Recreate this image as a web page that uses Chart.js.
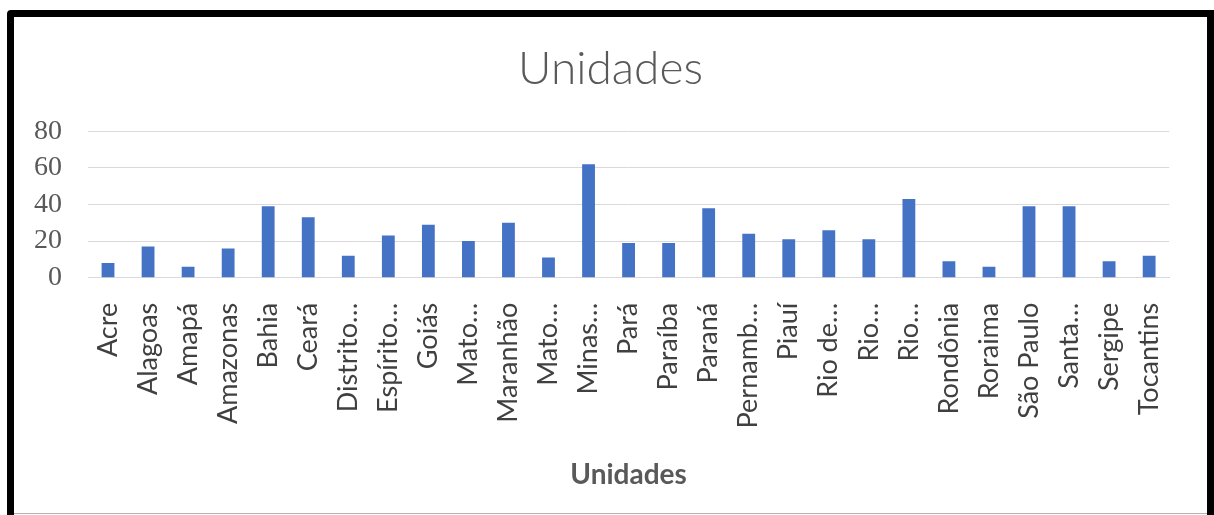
<!DOCTYPE html>
<html>
<head>
<meta charset="utf-8">
<script src="https://cdn.jsdelivr.net/npm/chart.js@4"></script>
<style>
  html, body { margin: 0; padding: 0; background: #fff; overflow: hidden; }
  #frame {
    position: absolute; left: 7px; top: 10px;
    width: 1193px; height: 600px;
    border: 7px solid #000;
    border-top-left-radius: 4px;
    background: #fff;
  }
  #box { position: absolute; left: 0; top: 0; width: 1193px; height: 498px; }
  #lineBottom { position: absolute; left: 0; top: 496px; width: 1193px; height: 1px; background: #b4b4b4; }
</style>
</head>
<body>
<div id="frame">
  <div id="box"><canvas id="grafico"></canvas></div>
  <div id="lineBottom"></div>
</div>
<script>
// categorias (como aparecem no gráfico, já truncadas)
const estados = ['Acre', 'Alagoas', 'Amapá', 'Amazonas', 'Bahia', 'Ceará', 'Distrito…', 'Espírito…',
  'Goiás', 'Mato…', 'Maranhão', 'Mato…', 'Minas…', 'Pará', 'Paraíba', 'Paraná', 'Pernamb…',
  'Piauí', 'Rio de…', 'Rio…', 'Rio…', 'Rondônia', 'Roraima', 'São Paulo', 'Santa…', 'Sergipe', 'Tocantins'];
const unidades = [8, 17, 6, 16, 39, 33, 12, 23, 29, 20, 30, 11, 62, 19, 19, 38, 24, 21, 26, 21, 43, 9, 6, 39, 39, 9, 12];
const ticksY = [0, 20, 40, 60, 80];

const cinza = '#595959';

new Chart(document.getElementById('grafico').getContext('2d'), {
  type: 'bar',
  data: {
    labels: estados,
    datasets: [{
      label: 'Unidades',
      data: unidades,
      backgroundColor: '#4472C4',
      barPercentage: 0.4,
      categoryPercentage: 0.8
    }]
  },
  options: {
    responsive: true,
    maintainAspectRatio: false,
    animation: false,
    layout: { padding: { left: 0, right: 0, top: 0, bottom: 23 } },
    plugins: {
      legend: { display: false },
      tooltip: { enabled: false },
      title: {
        display: true,
        text: 'Unidades',
        color: cinza,
        font: { family: 'Lato', size: 46, weight: '300' },
        padding: { top: 25, bottom: 34 }
      }
    },
    scales: {
      x: {
        grid: { display: false, drawTicks: false },
        border: { display: true, color: '#d9d9d9' },
        ticks: {
          autoSkip: false,
          minRotation: 90,
          maxRotation: 90,
          padding: 25,
          color: '#404040',
          font: { family: 'Lato', size: 27 }
        },
        title: {
          display: true,
          text: 'Unidades',
          color: cinza,
          font: { family: 'Lato', size: 28, weight: 'bold' },
          padding: { top: 5, bottom: 0 }
        }
      },
      y: {
        min: 0,
        max: 80,
        afterBuildTicks: function(scale) {
          scale.ticks = ticksY.map(function(v) { return { value: v }; });
        },
        afterFit: function(scale) { scale.width = 74; },
        grid: { color: '#d9d9d9', drawTicks: false },
        border: { display: false },
        ticks: {
          autoSkip: false,
          padding: 26,
          color: cinza,
          font: { family: 'Liberation Serif', size: 28 }
        }
      },
      // eixo vazio à direita, só para reservar a margem
      yVazio: {
        position: 'right',
        min: 0,
        max: 80,
        afterFit: function(scale) { scale.width = 25; },
        grid: { display: false, drawTicks: false },
        border: { display: false },
        ticks: { display: false }
      }
    }
  }
});
</script>
</body>
</html>
